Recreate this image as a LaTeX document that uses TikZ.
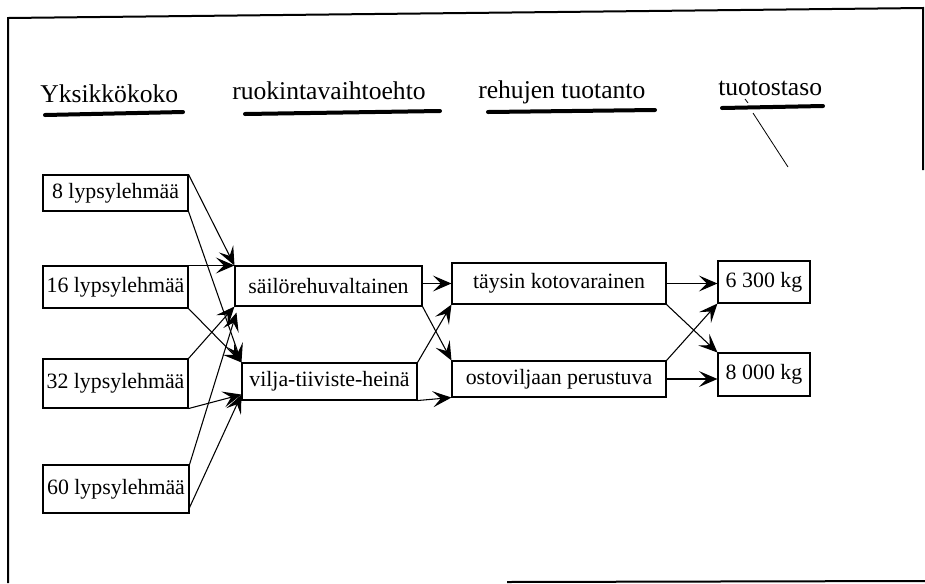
\documentclass[tikz,border=0pt]{standalone}
\usepackage{fontspec}
\setmainfont{Liberation Serif}
\usetikzlibrary{arrows.meta,calc}
\begin{document}
\begin{tikzpicture}[x=0.75pt,y=-0.75pt,
  box/.style 2 args={draw, line width=0.8pt, inner sep=0pt, minimum width={#1*0.75pt}, minimum height={#2*0.75pt}, font=\fontsize{16.4}{19}\selectfont},
  hdr/.style={anchor=base west, inner sep=0pt, font=\fontsize{19.2}{23}\selectfont},
  uline/.style={line width=3pt, line cap=round},
  arr/.style={line width=0.8pt, -{Stealth[length=14pt,width=12pt,inset=6pt]}},
  frameline/.style={line width=1.5pt},
  thin/.style={line width=0.6pt}]
\useasboundingbox (0,0) rectangle (925,583);

% frame
\draw[frameline] (8,583) -- (8,18) -- (923,8) -- (923,170);
\draw[frameline] (507,582) -- (925,581);

% headers
\node[hdr] (h1) at (40,102) {Yksikkökoko};
\node[hdr] (h2) at (232,99) {ruokintavaihtoehto};
\node[hdr] (h3) at (478,98) {rehujen tuotanto};
\node[hdr] (h4) at (718,95) {tuotostaso};
\draw[uline] (45,115) -- (183,112);
\draw[uline] (245,114) -- (440,111);
\draw[uline] (488,112) -- (655,110);
\draw[uline] (722,108) -- (823,106);
\coordinate (t1) at (753,113);
\coordinate (t2) at (788,167);
\draw[thin] (t1) -- (t2);
\coordinate (k1) at (745,99);
\coordinate (k2) at (748,103);
\draw[thin] (k1) -- (k2);

% column 1
\node[box={145}{36}] (b8) at (115.5,193) {8 lypsylehmää};
\node[box={145}{42}] (b16) at (115.5,287) {16 lypsylehmää};
\node[box={145}{49}] (b32) at (115.5,383.5) {32 lypsylehmää};
\node[box={146}{48}] (b60) at (116,489) {60 lypsylehmää};
% column 2
\node[box={187}{40}] (sail) at (328.5,286) {säilörehuvaltainen};
\node[box={175}{37}] (vilja) at (329.5,381.5) {vilja-tiiviste-heinä};
% column 3
\node[box={214}{41}] (tays) at (559,283.5) {täysin kotovarainen};
\node[box={214}{36}] (osto) at (559,379) {ostoviljaan perustuva};
% column 4
\node[box={92}{42}] (p63) at (764,282) {6 300 kg};
\node[box={92}{43}] (p80) at (764,374.5) {8 000 kg};

% column 1 -> column 2
\draw[arr] (b8.north east) -- (sail.north west);
\draw[arr] (b8.south east) -- (vilja.north west);
\draw[arr] (b16.north east) -- (sail.north west);
\draw[arr] (b16.south east) -- (vilja.north west);
\draw[arr] (b32.north east) -- (sail.south west);
\draw[arr] (b32.south east) -- ($(vilja.south west)+(0,-6)$);
\draw[arr] (b60.north east) -- ($(sail.south west)+(2,6)$);
\draw[arr] ($(b60.south east)+(0,-6)$) -- ($(vilja.south west)+(0,-6)$);

% column 2 -> column 3
\draw[arr] (sail.east |- tays.west) -- (tays.west);
\draw[arr] (sail.south east) -- (osto.north west);
\draw[arr] (vilja.north east) -- (tays.south west);
\draw[arr] (vilja.south east) -- (osto.south west);

% column 3 -> column 4
\draw[arr] (tays.east) -- (tays.east -| p63.west);
\draw[arr] (tays.south east) -- (p80.north west);
\draw[arr] (osto.north east) -- (p63.south west);
\draw[arr] (osto.east) -- (osto.east -| p80.west);
\end{tikzpicture}
\end{document}
